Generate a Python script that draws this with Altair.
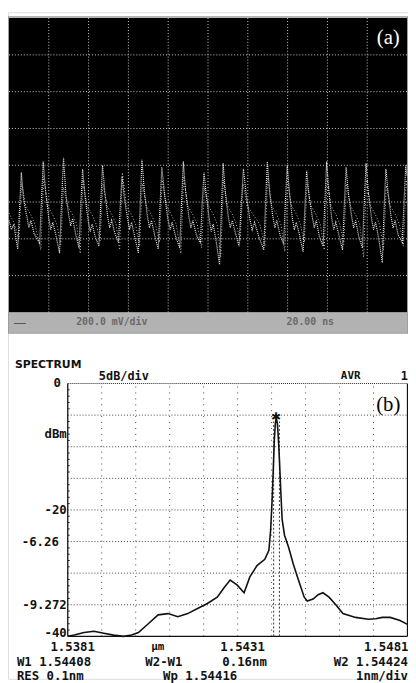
import altair as alt
import pandas as pd

# ---------------- panel (a): oscilloscope traces (divisions) ----------------
scope_t = [0.00, 0.06, 0.12, 0.17,
           0.22, 0.26, 0.31, 0.37, 0.45, 0.50, 0.55, 0.63,
           0.77, 0.81, 0.86, 0.92, 1.00, 1.05, 1.10, 1.18,
           1.27, 1.31, 1.37, 1.43, 1.50, 1.55, 1.60, 1.68,
           1.76, 1.80, 1.85, 1.91, 1.99, 2.04, 2.09, 2.17,
           2.26, 2.30, 2.35, 2.41, 2.48, 2.53, 2.58, 2.66,
           2.75, 2.79, 2.84, 2.90, 2.98, 3.03, 3.08, 3.16,
           3.25, 3.29, 3.34, 3.40, 3.48, 3.53, 3.58, 3.66,
           3.75, 3.79, 3.84, 3.91, 3.99, 4.05, 4.10, 4.19,
           4.29, 4.33, 4.38, 4.44, 4.52, 4.57, 4.62, 4.71,
           4.81, 4.85, 4.90, 4.96, 5.03, 5.08, 5.13, 5.21,
           5.29, 5.33, 5.38, 5.44, 5.51, 5.56, 5.61, 5.69,
           5.78, 5.83, 5.89, 5.96, 6.05, 6.11, 6.17, 6.28,
           6.40, 6.44, 6.49, 6.55, 6.63, 6.68, 6.73, 6.81,
           6.90, 6.94, 6.99, 7.05, 7.12, 7.17, 7.22, 7.30,
           7.39, 7.43, 7.48, 7.54, 7.62, 7.67, 7.72, 7.80,
           7.89, 7.93, 7.98, 8.04, 8.11, 8.16, 8.21, 8.29,
           8.38, 8.42, 8.47, 8.53, 8.61, 8.66, 8.71, 8.79,
           8.88, 8.92, 8.97, 9.03, 9.11, 9.16, 9.21, 9.29,
           9.38, 9.42, 9.47, 9.53, 9.60, 9.65, 9.70, 9.78,
           9.88, 9.92, 9.97, 10.0]
scope_v = [-1.5, -1.75, -1.6, -1.95,
           -2.28, -1.3, -0.2, -0.95, -1.4, -1.7, -1.5, -1.85,
           -2.12, -1.1, 0.1, -0.7, -1.45, -1.75, -1.55, -1.9,
           -2.39, -1.3, 0.2, -0.8, -1.35, -1.65, -1.45, -1.9,
           -2.25, -1.2, -0.1, -0.85, -1.5, -1.8, -1.6, -1.95,
           -2.2, -1.15, 0.0, -0.75, -1.4, -1.7, -1.5, -1.85,
           -2.1, -1.2, -0.3, -0.9, -1.45, -1.75, -1.55, -1.95,
           -2.39, -1.25, 0.15, -0.7, -1.4, -1.7, -1.5, -1.9,
           -2.28, -1.2, -0.05, -0.8, -1.45, -1.75, -1.55, -1.95,
           -2.25, -1.15, 0.1, -0.75, -1.4, -1.7, -1.5, -1.9,
           -2.12, -1.1, -0.2, -0.85, -1.45, -1.8, -1.6, -2.1,
           -2.7, -1.4, 0.05, -0.8, -1.4, -1.7, -1.5, -1.85,
           -2.2, -1.15, -0.1, -0.8, -1.45, -1.75, -1.55, -1.95,
           -2.3, -1.2, 0.1, -0.75, -1.4, -1.7, -1.5, -1.9,
           -2.15, -1.1, 0.0, -0.8, -1.45, -1.75, -1.55, -1.9,
           -2.35, -1.25, -0.15, -0.85, -1.4, -1.7, -1.5, -1.95,
           -2.2, -1.15, 0.1, -0.75, -1.45, -1.75, -1.55, -1.9,
           -2.3, -1.2, -0.05, -0.8, -1.4, -1.7, -1.5, -1.95,
           -2.25, -1.15, 0.05, -0.75, -1.45, -1.75, -1.55, -2.0,
           -2.65, -1.3, -0.1, -0.8, -1.4, -1.7, -1.5, -1.9,
           -2.1, -1.1, 0.0, -0.3]
# a second, fainter sweep (persistence)
scope2_t = [0.00, 0.12,
            0.25, 0.32, 0.42, 0.55, 0.65,
            0.80, 0.87, 0.97, 1.10, 1.20,
            1.30, 1.37, 1.47, 1.60, 1.70,
            1.79, 1.86, 1.96, 2.09, 2.19,
            2.29, 2.36, 2.46, 2.59, 2.69,
            2.78, 2.85, 2.95, 3.08, 3.18,
            3.28, 3.35, 3.45, 3.58, 3.68,
            3.78, 3.85, 3.95, 4.08, 4.20,
            4.32, 4.39, 4.49, 4.62, 4.73,
            4.84, 4.91, 5.01, 5.14, 5.23,
            5.32, 5.39, 5.49, 5.62, 5.71,
            5.81, 5.88, 5.98, 6.14, 6.30,
            6.43, 6.50, 6.60, 6.73, 6.83,
            6.93, 7.00, 7.10, 7.23, 7.32,
            7.42, 7.49, 7.59, 7.72, 7.82,
            7.92, 7.99, 8.09, 8.22, 8.31,
            8.41, 8.48, 8.58, 8.71, 8.81,
            8.91, 8.98, 9.08, 9.21, 9.31,
            9.41, 9.48, 9.58, 9.71, 9.81,
            9.91, 9.98, 10.0]
scope2_v = [-1.3, -1.55,
            -2.0, -0.5, -1.1, -1.35, -1.6,
            -2.3, -0.3, -1.1, -1.35, -1.6,
            -2.15, -0.6, -1.1, -1.35, -1.6,
            -2.4, -0.4, -1.1, -1.35, -1.6,
            -2.05, -0.5, -1.1, -1.35, -1.6,
            -2.3, -0.2, -1.1, -1.35, -1.6,
            -2.2, -0.5, -1.1, -1.35, -1.6,
            -2.1, -0.4, -1.1, -1.35, -1.6,
            -2.4, -0.3, -1.1, -1.35, -1.6,
            -2.25, -0.6, -1.1, -1.35, -1.6,
            -2.5, -0.4, -1.1, -1.35, -1.6,
            -2.05, -0.5, -1.1, -1.35, -1.6,
            -2.2, -0.3, -1.1, -1.35, -1.6,
            -2.35, -0.45, -1.1, -1.35, -1.6,
            -2.1, -0.5, -1.1, -1.35, -1.6,
            -2.3, -0.35, -1.1, -1.35, -1.6,
            -2.15, -0.5, -1.1, -1.35, -1.6,
            -2.5, -0.4, -1.1, -1.35, -1.6,
            -2.3, -0.55, -1.1, -1.35, -1.6,
            -2.2, -0.4, -0.6]
a_vgrid = [1, 2, 3, 4, 5, 6, 7, 8, 9]
a_hgrid = [-3, -2, -1, 0, 1, 2, 3]

# ---------------- panel (b): optical spectrum ----------------
wl = [1.5381, 1.53829, 1.53858, 1.53887, 1.53916, 1.53945, 1.53974, 1.53998, 1.54018,
      1.54047, 1.54076, 1.54105, 1.54134, 1.54163, 1.54192, 1.54221, 1.54250, 1.54270,
      1.54288, 1.54309, 1.54329, 1.54346, 1.54367, 1.54390, 1.54402, 1.54407, 1.54411,
      1.54415, 1.54418, 1.54421, 1.54424, 1.54427, 1.54430, 1.54433, 1.54437, 1.54441,
      1.54448, 1.54460, 1.54474, 1.54489, 1.54506, 1.54515, 1.54532, 1.54547, 1.54561,
      1.54579, 1.54599, 1.54620, 1.54657, 1.54695, 1.54716, 1.54736, 1.54759, 1.54788,
      1.5481]
power = [-40.0, -39.8, -39.4, -39.2, -39.5, -39.8, -40.0, -39.8, -39.4,
         -38.0, -36.6, -36.4, -36.9, -36.4, -35.6, -34.8, -33.8, -32.3,
         -31.1, -31.9, -33.1, -30.6, -28.8, -27.8, -26.4, -23.3, -19.0,
         -13.5, -9.0, -6.3, -5.6, -6.3, -8.8, -12.0, -17.0, -21.5,
         -24.0, -25.9, -28.6, -31.1, -33.8, -34.4, -34.1, -33.4, -33.1,
         -33.8, -35.0, -36.4, -37.0, -37.3, -37.2, -37.0, -37.0, -37.5,
         -38.1]
b_vgrid = [1.5391, 1.5401, 1.5411, 1.5421, 1.5431, 1.5441, 1.5451, 1.5461, 1.5471]
b_hgrid = [-5, -10, -15, -20, -25, -30, -35]
b_minor = [-1, -2, -3, -4, -6, -7, -8, -9, -11, -12, -13, -14, -16, -17, -18, -19,
           -21, -22, -23, -24, -26, -27, -28, -29, -31, -32, -33, -34, -36, -37, -38, -39]
marker_wl = [1.54416, 1.54433]
ylab_main_vals = [-8, -20, -35, -39.5]
ylab_main_text = ["dBm", "-20", "-9.272", "-40"]

MONO = "DejaVu Sans Mono"
SANS = "DejaVu Sans"

xa = alt.Scale(domain=[0, 10], range=[1, 404], nice=False, zero=False)
ya = alt.Scale(domain=[-4, 4], range=[304, 6], nice=False, zero=False)
xb = alt.Scale(domain=[1.5381, 1.5481], range=[60.5, 404.5], nice=False, zero=False)
yb = alt.Scale(domain=[-40, 0], range=[632, 376], nice=False, zero=False)


def label(txt, x, y, align="left", size=12.5, color="#111111", font=MONO, weight="bold"):
    return alt.Chart(pd.DataFrame({"t": [txt]})).mark_text(
        align=align, baseline="middle", fontSize=size, font=font,
        fontWeight=weight, color=color
    ).encode(text="t:N", x=alt.value(x), y=alt.value(y))


# ----- panel (a) layers -----
bg = alt.Chart(pd.DataFrame({"x0": [0], "x1": [10], "y0": [-4], "y1": [4]})).mark_rect(
    color="black").encode(
    x=alt.X("x0:Q", scale=xa, axis=None), x2="x1",
    y=alt.Y("y0:Q", scale=ya, axis=None), y2="y1")
status = alt.Chart(pd.DataFrame({"x0": [0], "x1": [10], "y0": [-4.54], "y1": [-4]})).mark_rect(
    color="#b2b2b2").encode(
    x=alt.X("x0:Q", scale=xa, axis=None), x2="x1",
    y=alt.Y("y0:Q", scale=ya, axis=None), y2="y1")
frame_a = alt.Chart(pd.DataFrame({"x0": [-0.02], "x1": [10.02], "y0": [-4.56], "y1": [4.03]})).mark_rect(
    fillOpacity=0, stroke="#9a9a9a", strokeWidth=1.5).encode(
    x=alt.X("x0:Q", scale=xa, axis=None), x2="x1",
    y=alt.Y("y0:Q", scale=ya, axis=None), y2="y1")
vgrid_a = alt.Chart(pd.DataFrame({"v": a_vgrid, "y0": -4, "y1": 4})).mark_rule(
    color="#cfcfcf", strokeWidth=1, strokeDash=[1, 2]).encode(
    x=alt.X("v:Q", scale=xa, axis=None),
    y=alt.Y("y0:Q", scale=ya, axis=None), y2="y1")
hgrid_a = alt.Chart(pd.DataFrame({"h": a_hgrid, "x0": 0, "x1": 10})).mark_rule(
    color="#cfcfcf", strokeWidth=1, strokeDash=[1, 2]).encode(
    y=alt.Y("h:Q", scale=ya, axis=None),
    x=alt.X("x0:Q", scale=xa, axis=None), x2="x1")
trace2_a = alt.Chart(pd.DataFrame({"t": scope2_t, "v": scope2_v, "i": range(len(scope2_t))})).mark_line(
    color="#b8b8b8", strokeWidth=1, strokeDash=[1, 2]).encode(
    x=alt.X("t:Q", scale=xa, axis=None),
    y=alt.Y("v:Q", scale=ya, axis=None), order="i:Q")
trace_a = alt.Chart(pd.DataFrame({"t": scope_t, "v": scope_v, "i": range(len(scope_t))})).mark_line(
    color="#e6e6e6", strokeWidth=1.2, strokeDash=[1, 1]).encode(
    x=alt.X("t:Q", scale=xa, axis=None),
    y=alt.Y("v:Q", scale=ya, axis=None), order="i:Q")

layer_a = alt.layer(
    bg, status, frame_a, vgrid_a, hgrid_a, trace2_a, trace_a,
    label("(a)", 385, 26, align="center", size=21, color="white",
          font="Liberation Serif", weight="normal"),
    label("__", 6, 310, size=10, color="#555555"),
    label("200.0 mV/div", 69, 314, size=10, color="#6a6a6a"),
    label("20.00 ns", 282, 314, size=10, color="#6a6a6a"),
)

# ----- panel (b) layers -----
hgrid_b = alt.Chart(pd.DataFrame({"h": b_hgrid, "x0": 1.5381, "x1": 1.5481})).mark_rule(
    color="#444444", strokeWidth=1, strokeDash=[1, 2]).encode(
    y=alt.Y("h:Q", scale=yb, axis=None),
    x=alt.X("x0:Q", scale=xb, axis=None), x2="x1")
vgrid_b = alt.Chart(pd.DataFrame({"v": b_vgrid, "y0": -40, "y1": 0})).mark_rule(
    color="#444444", strokeWidth=1, strokeDash=[1, 5]).encode(
    x=alt.X("v:Q", scale=xb, axis=None),
    y=alt.Y("y0:Q", scale=yb, axis=None), y2="y1")
minor_b = alt.Chart(pd.DataFrame({"h": b_minor, "x0": 1.5381, "x1": 1.53816})).mark_rule(
    color="#333333", strokeWidth=1).encode(
    y=alt.Y("h:Q", scale=yb, axis=None),
    x=alt.X("x0:Q", scale=xb, axis=None), x2="x1")
top_b = alt.Chart(pd.DataFrame({"h": [0], "x0": 1.5381, "x1": 1.5481})).mark_rule(
    color="#222222", strokeWidth=1, strokeDash=[1, 1]).encode(
    y=alt.Y("h:Q", scale=yb, axis=None),
    x=alt.X("x0:Q", scale=xb, axis=None), x2="x1")
bottom_b = alt.Chart(pd.DataFrame({"h": [-40], "x0": 1.5381, "x1": 1.5481})).mark_rule(
    color="#111111", strokeWidth=1.3).encode(
    y=alt.Y("h:Q", scale=yb, axis=None),
    x=alt.X("x0:Q", scale=xb, axis=None), x2="x1")
sides_b = alt.Chart(pd.DataFrame({"v": [1.5381, 1.5481], "y0": -40, "y1": 0})).mark_rule(
    color="#111111", strokeWidth=1.3).encode(
    x=alt.X("v:Q", scale=xb, axis=None),
    y=alt.Y("y0:Q", scale=yb, axis=None), y2="y1")
markers_b = alt.Chart(pd.DataFrame({"v": marker_wl, "y0": -40, "y1": -6})).mark_rule(
    color="#333333", strokeWidth=1, strokeDash=[2, 2]).encode(
    x=alt.X("v:Q", scale=xb, axis=None),
    y=alt.Y("y0:Q", scale=yb, axis=None), y2="y1")
spec = alt.Chart(pd.DataFrame({"w": wl, "p": power, "i": range(len(wl))})).mark_line(
    color="#111111", strokeWidth=1.6).encode(
    x=alt.X("w:Q", scale=xb, axis=None),
    y=alt.Y("p:Q", scale=yb, axis=None), order="i:Q")
star = alt.Chart(pd.DataFrame({"w": [1.54424], "p": [-5.3], "t": ["\u2731"]})).mark_text(
    fontSize=12, color="#111111", baseline="middle").encode(
    x=alt.X("w:Q", scale=xb, axis=None),
    y=alt.Y("p:Q", scale=yb, axis=None), text="t:N")


def ylabels(vals, texts, dx):
    return alt.Chart(pd.DataFrame({"x": 1.5381, "p": vals, "t": texts})).mark_text(
        align="right", baseline="middle", dx=dx, fontSize=12.5, font=MONO,
        fontWeight="bold", color="#111111").encode(
        x=alt.X("x:Q", scale=xb, axis=None),
        y=alt.Y("p:Q", scale=yb, axis=None), text="t:N")


ylab_main = ylabels(ylab_main_vals, ylab_main_text, -1)
ylab_zero = ylabels([0], ["0"], -7)
ylab_mark = ylabels([-25], ["-6.26"], -9)

xlab = alt.Chart(pd.DataFrame({"w": [1.5381, 1.5431], "t": ["1.5381", "1.5431"]})).mark_text(
    align="center", baseline="middle", dx=5, fontSize=12.5, font=MONO,
    fontWeight="bold", color="#111111").encode(
    x=alt.X("w:Q", scale=xb, axis=None), y=alt.value(643), text="t:N")
xlab_r = alt.Chart(pd.DataFrame({"w": [1.5481], "t": ["1.5481"]})).mark_text(
    align="right", baseline="middle", dx=1, fontSize=12.5, font=MONO,
    fontWeight="bold", color="#111111").encode(
    x=alt.X("w:Q", scale=xb, axis=None), y=alt.value(643), text="t:N")

layer_b = alt.layer(
    hgrid_b, vgrid_b, minor_b, top_b, bottom_b, sides_b, markers_b, spec, star,
    ylab_main, ylab_zero, ylab_mark, xlab, xlab_r,
    label("SPECTRUM", 7, 357, size=11, font=SANS),
    label("5dB/div", 92, 368, size=12),
    label("AVR", 337, 368, size=11),
    label("1", 405, 368, align="right", size=12),
    label("(b)", 385, 398, align="center", size=21, color="black",
          font="Liberation Serif", weight="normal"),
    label("\u03bcm", 145, 643, size=11),
    label("W1 1.54408", 9, 658),
    label("W2-W1", 139, 658),
    label("0.16nm", 217, 658),
    label("W2 1.54424", 405, 658, align="right"),
    label("RES 0.1nm", 9, 672),
    label("Wp 1.54416", 157, 672),
    label("1nm/div", 405, 672, align="right"),
)

chart = alt.layer(layer_a, layer_b).resolve_scale(
    x="independent", y="independent"
).properties(
    width=405, height=675, autosize="none", padding=0
).configure_view(stroke=None).configure(background="white")

chart.save("out.html", embed_options={"renderer": "svg", "actions": False})
